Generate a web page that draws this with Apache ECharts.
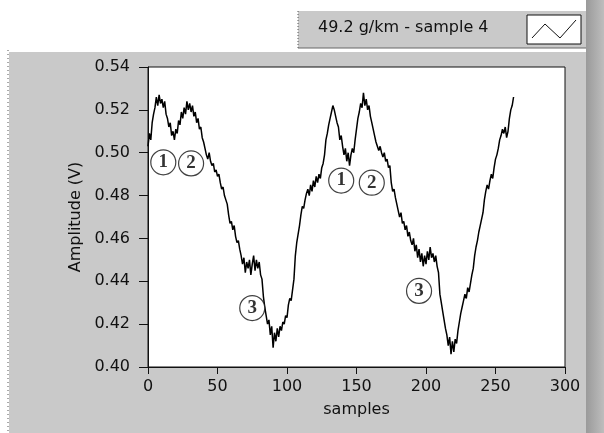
<!DOCTYPE html>
<html>
<head>
<meta charset="utf-8">
<script src="https://cdn.jsdelivr.net/npm/echarts@6/dist/echarts.min.js"></script>
<style>
  html, body { margin: 0; padding: 0; background: #fff; }
  #chart { width: 604px; height: 433px; }
</style>
</head>
<body>
<div id="chart"></div>
<script>
// -------------------- data --------------------

// amplitude (V), one value per sample
const amplitude = [
  0.503, 0.509, 0.506, 0.514, 0.518, 0.521, 0.526, 0.522, 0.527, 0.523,
  0.525, 0.521, 0.524, 0.518, 0.516, 0.512, 0.514, 0.508, 0.510, 0.506,
  0.511, 0.509, 0.515, 0.513, 0.519, 0.516, 0.521, 0.518, 0.524, 0.520,
  0.523, 0.519, 0.522, 0.517, 0.519, 0.514, 0.516, 0.511, 0.512, 0.507,
  0.505, 0.502, 0.499, 0.497, 0.500, 0.496, 0.494, 0.495, 0.491, 0.492,
  0.489, 0.490, 0.486, 0.483, 0.484, 0.480, 0.478, 0.476, 0.471, 0.467,
  0.468, 0.464, 0.466, 0.461, 0.458, 0.459, 0.455, 0.452, 0.448, 0.451,
  0.444, 0.449, 0.446, 0.450, 0.443, 0.448, 0.452, 0.445, 0.450, 0.446,
  0.449, 0.443, 0.441, 0.433, 0.428, 0.424, 0.420, 0.422, 0.415, 0.419,
  0.409, 0.416, 0.412, 0.418, 0.414, 0.419, 0.417, 0.421, 0.420, 0.424,
  0.423, 0.429, 0.432, 0.431, 0.436, 0.441, 0.452, 0.458, 0.462, 0.466,
  0.471, 0.475, 0.474, 0.478, 0.481, 0.483, 0.480, 0.485, 0.482, 0.487,
  0.484, 0.489, 0.486, 0.490, 0.488, 0.493, 0.495, 0.499, 0.506, 0.509,
  0.513, 0.516, 0.519, 0.522, 0.520, 0.517, 0.514, 0.512, 0.506, 0.508,
  0.503, 0.499, 0.502, 0.496, 0.500, 0.494, 0.499, 0.502, 0.500, 0.506,
  0.511, 0.516, 0.519, 0.523, 0.521, 0.528, 0.522, 0.525, 0.520, 0.522,
  0.517, 0.514, 0.511, 0.508, 0.505, 0.503, 0.501, 0.503, 0.500, 0.498,
  0.500, 0.496, 0.497, 0.493, 0.494, 0.486, 0.482, 0.483, 0.479, 0.476,
  0.473, 0.470, 0.472, 0.467, 0.468, 0.464, 0.466, 0.461, 0.463, 0.459,
  0.457, 0.460, 0.454, 0.457, 0.451, 0.455, 0.449, 0.453, 0.447, 0.452,
  0.448, 0.454, 0.450, 0.456, 0.451, 0.453, 0.449, 0.452, 0.447, 0.444,
  0.434, 0.430, 0.426, 0.422, 0.418, 0.415, 0.410, 0.414, 0.406, 0.412,
  0.407, 0.413, 0.411, 0.417, 0.421, 0.425, 0.428, 0.431, 0.434, 0.432,
  0.437, 0.435, 0.439, 0.443, 0.446, 0.452, 0.456, 0.459, 0.463, 0.466,
  0.469, 0.472, 0.478, 0.482, 0.485, 0.483, 0.487, 0.490, 0.488, 0.493,
  0.497, 0.499, 0.502, 0.506, 0.508, 0.511, 0.509, 0.512, 0.507, 0.510,
  0.516, 0.520, 0.522, 0.526
]

// circled markers (position in sample / volt)
const markX = [11, 31, 75, 139, 161, 195]
const markY = [0.4955, 0.4950, 0.4275, 0.4870, 0.4860, 0.4355]
const markText = ['1', '2', '3', '1', '2', '3']

const xTicks = [0, 50, 100, 150, 200, 250, 300]
const yTicks = [0.40, 0.42, 0.44, 0.46, 0.48, 0.50, 0.52, 0.54]

const legendText = '49.2 g/km - sample 4'

// -------------------- chart --------------------

const chart = echarts.init(document.getElementById('chart'))
const panelGray = '#c9c9c9'
const font = 'DejaVu Sans'

const option = {
  backgroundColor: '#ffffff',
  animation: false,
  graphic: [
    // panel behind the plot
    { type: 'rect', z: -10, shape: { x: 9, y: 52, width: 580, height: 381 }, style: { fill: panelGray } },
    // darker strip on the right edge
    {
      type: 'rect', z: -9, shape: { x: 586, y: 0, width: 18, height: 433 },
      style: {
        fill: new echarts.graphic.LinearGradient(0, 0, 1, 0, [
          { offset: 0, color: '#9a9a9a' },
          { offset: 1, color: '#bdbdbd' }
        ])
      }
    },
    // dotted left edge
    { type: 'line', z: -8, shape: { x1: 8, y1: 50, x2: 8, y2: 433 }, style: { stroke: '#555', lineWidth: 1, lineDash: [1, 3] } },
    // legend box
    { type: 'rect', z: -8, shape: { x: 298, y: 11, width: 288, height: 37 }, style: { fill: panelGray } },
    { type: 'line', z: -7, shape: { x1: 298, y1: 11, x2: 298, y2: 48 }, style: { stroke: '#555', lineWidth: 1, lineDash: [1, 2] } },
    { type: 'line', z: -7, shape: { x1: 298, y1: 48, x2: 586, y2: 48 }, style: { stroke: '#666', lineWidth: 1 } },
    {
      type: 'text', left: 318, top: 20,
      style: { text: legendText, font: '16px ' + font, fill: '#111' }
    },
    { type: 'rect', shape: { x: 527, y: 15, width: 54, height: 29 }, style: { fill: '#fff', stroke: '#111', lineWidth: 1 } },
    {
      type: 'polyline',
      shape: { points: [[532, 38], [545, 24], [560, 38], [576, 20]] },
      style: { stroke: '#111', lineWidth: 1, fill: null }
    }
  ],
  grid: {
    left: 148, right: 39, top: 67, bottom: 66,
    show: true,
    backgroundColor: '#ffffff',
    borderColor: '#111',
    borderWidth: 1
  },
  xAxis: {
    type: 'value',
    min: xTicks[0],
    max: xTicks[xTicks.length - 1],
    interval: 50,
    name: 'samples',
    nameLocation: 'middle',
    nameGap: 35,
    nameTextStyle: { fontFamily: font, fontSize: 16, color: '#111' },
    axisLine: { show: true, lineStyle: { color: '#111' } },
    axisTick: { show: true, inside: false, length: 7, lineStyle: { color: '#111' } },
    axisLabel: { fontFamily: font, fontSize: 16, color: '#111', margin: 12 },
    splitLine: { show: false }
  },
  yAxis: {
    type: 'value',
    min: yTicks[0],
    max: yTicks[yTicks.length - 1],
    interval: 0.02,
    name: 'Amplitude (V)',
    nameLocation: 'middle',
    nameGap: 62,
    nameRotate: 90,
    nameTextStyle: { fontFamily: font, fontSize: 16, color: '#111' },
    axisLine: { show: true, lineStyle: { color: '#111' } },
    axisTick: { show: true, inside: false, length: 9, lineStyle: { color: '#111' } },
    axisLabel: { fontFamily: font, fontSize: 16, color: '#111', margin: 18, formatter: v => v.toFixed(2) },
    splitLine: { show: false }
  },
  series: [
    {
      name: legendText,
      type: 'line',
      data: amplitude.map((v, i) => [i, v]),
      symbol: 'none',
      lineStyle: { color: '#000', width: 1.5 },
      z: 2
    },
    {
      type: 'scatter',
      data: markX.map((x, i) => [x, markY[i], markText[i]]),
      symbol: 'circle',
      symbolSize: 25,
      itemStyle: { color: '#fff', borderColor: '#111', borderWidth: 1.2 },
      label: {
        show: true,
        position: 'inside',
        formatter: p => p.data[2],
        fontFamily: 'Liberation Serif',
        fontWeight: 'bold',
        fontSize: 19,
        color: '#000'
      },
      z: 3
    }
  ]
}

chart.setOption(option)
</script>
</body>
</html>
